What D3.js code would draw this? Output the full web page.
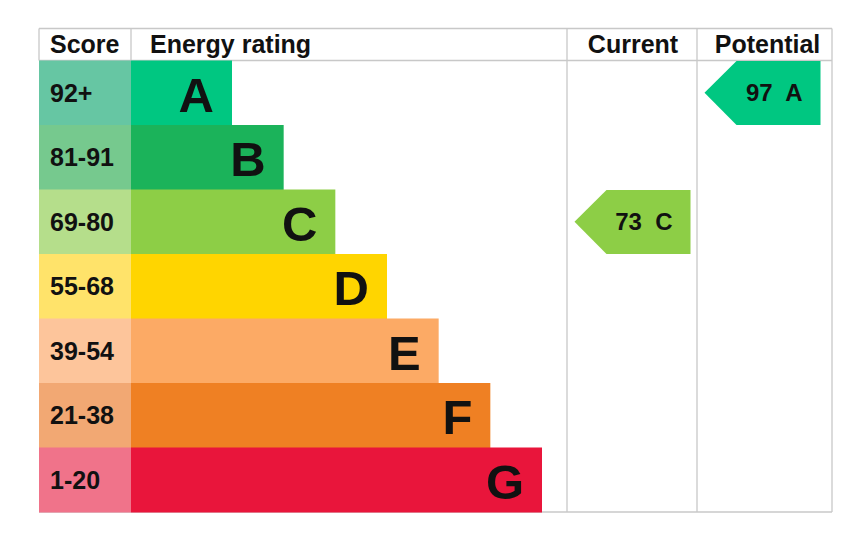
<!DOCTYPE html>
<html>
<head>
<meta charset="utf-8">
<script src="https://cdn.jsdelivr.net/npm/d3@7"></script>
<style>
    html, body { margin: 0; padding: 0; background: #fff; }
    svg { display: block; font-family: "Liberation Sans", Arial, sans-serif; font-weight: bold; }
</style>
</head>
<body>
<svg id="chart" width="862" height="542"></svg>
<script>
    "use strict";

    // Data
    var bands = ["A", "B", "C", "D", "E", "F", "G"];
    var scoreRanges = ["92+", "81-91", "69-80", "55-68", "39-54", "21-38", "1-20"];
    var barSteps = [1, 2, 3, 4, 5, 6, 7];
    var bandColours = ["#00c781", "#1bb35a", "#8dce46", "#ffd500", "#fcaa65", "#ef8023", "#e9153b"];
    var scoreColours = ["#66c6a3", "#76c98e", "#b5de8b", "#ffe36a", "#fdc59b", "#f2a873", "#f0738a"];
    var headers = ["Score", "Energy rating", "Current", "Potential"];
    var ratings = [
        { column: "Current", value: 73, band: "C" },
        { column: "Potential", value: 97, band: "A" }
    ];

    // Layout
    var tableTop = 28.5, headBottom = 60.5, tableBottom = 512;
    var col = { score: 39, rating: 131, current: 567, potential: 697, right: 832 };
    var gridColour = "#c8c8c8";

    var svg = d3.select("#chart");

    var y = d3.scaleBand()
        .domain(bands)
        .range([headBottom, tableBottom]);

    var barEnd = d3.scaleLinear()
        .domain([1, 7])
        .range([232, 542]);

    // Grid lines
    var grid = svg.append("g")
        .attr("stroke", gridColour)
        .attr("stroke-width", 1.3)
        .attr("fill", "none");

    grid.append("line").attr("x1", col.score).attr("x2", col.right).attr("y1", tableTop).attr("y2", tableTop);
    grid.append("line").attr("x1", col.score).attr("x2", col.right).attr("y1", headBottom).attr("y2", headBottom);
    grid.append("line").attr("x1", col.score).attr("x2", col.right).attr("y1", tableBottom).attr("y2", tableBottom);
    [col.score, col.rating].forEach(function (x) {
        grid.append("line").attr("x1", x).attr("x2", x).attr("y1", tableTop).attr("y2", headBottom);
    });
    [col.current, col.potential, col.right].forEach(function (x) {
        grid.append("line").attr("x1", x).attr("x2", x).attr("y1", tableTop).attr("y2", tableBottom);
    });

    // Header texts
    var headX = [col.score + 11, col.rating + 19, (col.current + col.potential) / 2 + 1, (col.potential + col.right) / 2 + 3];
    var headAnchor = ["start", "start", "middle", "middle"];
    svg.append("g").selectAll("text")
        .data(headers)
        .enter()
        .append("text")
        .attr("x", function (d, i) { return headX[i]; })
        .attr("y", 53)
        .attr("text-anchor", function (d, i) { return headAnchor[i]; })
        .attr("font-size", 25)
        .attr("fill", "#111")
        .text(function (d) { return d; });

    // Score cells and bars
    var rows = svg.append("g").selectAll("g")
        .data(bands)
        .enter()
        .append("g");

    rows.append("rect")
        .attr("x", col.score)
        .attr("y", function (d) { return y(d); })
        .attr("width", col.rating - col.score)
        .attr("height", y.bandwidth() + 0.5)
        .attr("fill", function (d, i) { return scoreColours[i]; });

    rows.append("rect")
        .attr("x", col.rating)
        .attr("y", function (d) { return y(d); })
        .attr("width", function (d, i) { return barEnd(barSteps[i]) - col.rating; })
        .attr("height", y.bandwidth() + 0.5)
        .attr("fill", function (d, i) { return bandColours[i]; });

    rows.append("text")
        .attr("x", col.score + 11)
        .attr("y", function (d) { return y(d) + y.bandwidth() / 2 + 9; })
        .attr("font-size", 25)
        .attr("fill", "#111")
        .text(function (d, i) { return scoreRanges[i]; });

    rows.append("text")
        .attr("x", function (d, i) { return barEnd(barSteps[i]) - 18; })
        .attr("y", function (d) { return y(d) + y.bandwidth() / 2 + 19; })
        .attr("text-anchor", "end")
        .attr("font-size", 49)
        .attr("fill", "#111")
        .text(function (d) { return d; });

    // Current / potential arrows
    var arrowWidth = 116, tipWidth = 32;
    var arrows = svg.append("g").selectAll("g")
        .data(ratings)
        .enter()
        .append("g")
        .attr("transform", function (d) {
            var left = (d.column === "Current" ? col.current : col.potential) + 7.5;
            return "translate(" + left + "," + y(d.band) + ")";
        });

    arrows.append("path")
        .attr("d", function () {
            var h = y.bandwidth();
            return "M0," + (h / 2) +
                "L" + tipWidth + ",0.5" +
                "L" + arrowWidth + ",0.5" +
                "L" + arrowWidth + "," + h +
                "L" + tipWidth + "," + h + "Z";
        })
        .attr("fill", function (d) { return bandColours[bands.indexOf(d.band)]; });

    arrows.append("text")
        .attr("x", arrowWidth - 18)
        .attr("y", y.bandwidth() / 2 + 8.5)
        .attr("text-anchor", "end")
        .attr("font-size", 24)
        .attr("fill", "#111")
        .style("white-space", "pre")
        .text(function (d) { return d.value + "  " + d.band; });
</script>
</body>
</html>
